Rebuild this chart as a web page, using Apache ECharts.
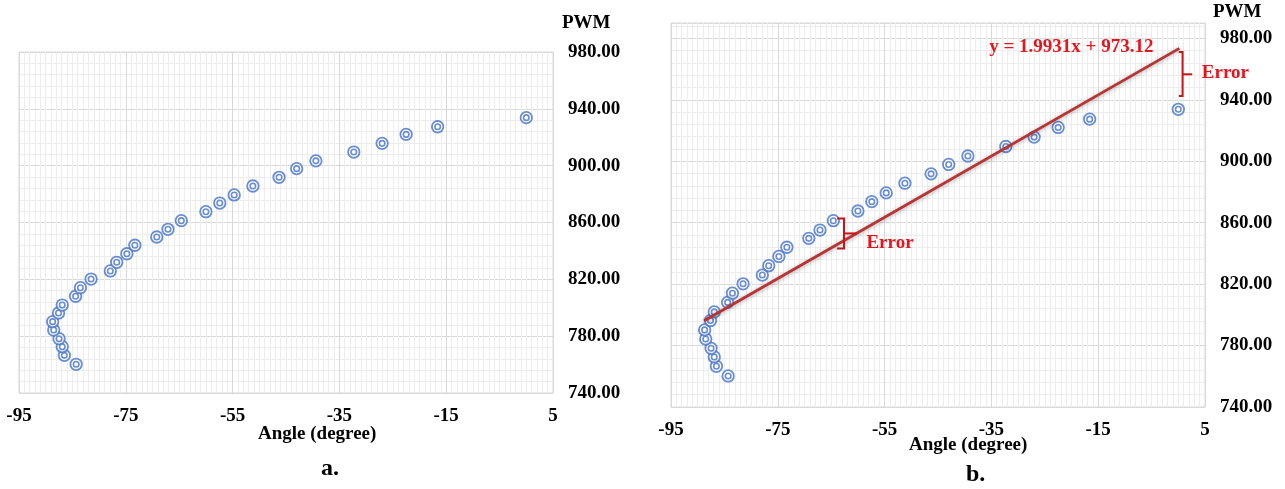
<!DOCTYPE html>
<html><head><meta charset="utf-8">
<script src="https://cdn.jsdelivr.net/npm/echarts@6/dist/echarts.min.js"></script>
<style>html,body{margin:0;padding:0;background:#fff}#c{width:1285px;height:489px}</style>
</head><body><div id="c"></div><script>
// Measured data (angle in degrees, PWM)
const angle = [-84.3,-86.5,-86.9,-87.5,-88.5,-88.7,-87.6,-86.9,-84.4,-83.5,-81.5,-77.9,-76.7,-74.8,-73.3,-69.2,-67.1,-64.6,-60.0,-57.4,-54.7,-51.2,-46.3,-43.0,-39.4,-32.3,-27.0,-22.5,-16.6,0.0];
const pwm   = [760.2,766.5,772.6,778.2,784.3,790.2,796.3,801.9,808.1,814.1,820.2,825.9,832.0,838.0,844.0,849.8,855.2,861.3,867.6,873.7,879.4,885.7,891.8,897.9,903.4,909.6,915.7,922.0,927.4,933.8];
// Trend line end points
const trendX = [-88.8, 0.2];
const trendY = [796.1, 973.5];
const equationText = 'y = 1.9931x + 973.12';
const equationPos = [-35.4, 974.3];
// Error brackets in panel b
const bracketX      = [-62.6, 0.8];
const bracketHook   = [-63.9, 0.1];
const bracketTip    = [-60.2, 2.6];
const bracketTop    = [862.7, 971.1];
const bracketBottom = [843.2, 942.5];
const bracketMid    = [853.0, 956.6];
const errTextX      = [-58.4, 4.4];
const errTextY      = [846.9, 957.2];
// Axis settings
const xMin = -95, xMax = 5, xStep = 20;
const yMin = 740, yMaxA = 980, yMaxB = 990, yStep = 40;

const FONT = '"Liberation Serif","Times New Roman",serif';
const pts = angle.map((a,i)=>[a,pwm[i]]);
const trend = trendX.map((x,i)=>[x,trendY[i]]);
const blue = '#4470c8';

function xAxis(gi){
  return {type:'value', gridIndex:gi, min:xMin, max:xMax, interval:xStep,
    axisLine:{show:false}, axisTick:{show:false},
    axisLabel:{color:'#000', fontFamily:FONT, fontWeight:'bold', fontSize:19, margin:14},
    splitLine:{show:true, lineStyle:{color:'#d9d9d9', width:1}},
    minorTick:{show:false, splitNumber:20},
    minorSplitLine:{show:true, lineStyle:{color:'#ededed', width:1}}};
}
function yAxis(gi, max){
  return {type:'value', gridIndex:gi, position:'right', min:yMin, max:max, interval:yStep,
    axisLine:{show:false}, axisTick:{show:false},
    axisLabel:{color:'#000', fontFamily:FONT, fontWeight:'bold', fontSize:19, margin:15,
      showMaxLabel: max===yMaxA, formatter:v=>v.toFixed(2)},
    splitLine:{show:true, lineStyle:{color:'#d9d9d9', width:1}},
    minorTick:{show:false, splitNumber:5},
    minorSplitLine:{show:true, lineStyle:{color:'#ededed', width:1}}};
}
function markers(gi){
  return [
    {type:'scatter', xAxisIndex:gi, yAxisIndex:gi, data:pts, symbol:'circle', symbolSize:11.5, z:3,
      itemStyle:{color:'#fff', borderColor:blue, borderWidth:1.8}, silent:true},
    {type:'scatter', xAxisIndex:gi, yAxisIndex:gi, data:pts, symbol:'circle', symbolSize:5.5, z:4,
      itemStyle:{color:'#fff', borderColor:blue, borderWidth:1.6}, silent:true}
  ];
}

const chart = echarts.init(document.getElementById('c'), null, {renderer:'canvas'});
chart.setOption({
  animation:false,
  backgroundColor:'#fff',
  grid:[
    {left:19, right:732, top:52, bottom:96, show:true, borderColor:'#d9d9d9', borderWidth:1, backgroundColor:'transparent'},
    {left:671, right:80, top:23, bottom:82, show:true, borderColor:'#d9d9d9', borderWidth:1, backgroundColor:'transparent'}
  ],
  xAxis:[xAxis(0), xAxis(1)],
  yAxis:[yAxis(0,yMaxA), yAxis(1,yMaxB)],
  series:[
    ...markers(0),
    ...markers(1),
    {type:'line', xAxisIndex:1, yAxisIndex:1, data:trend, symbol:'none', z:6, silent:true,
      lineStyle:{color:'#b83434', width:2.8, shadowColor:'rgba(0,0,0,0.35)', shadowBlur:4, shadowOffsetY:1}},
    {type:'custom', xAxisIndex:1, yAxisIndex:1, silent:true, clip:false, z:10,
      data: bracketX.map((v,i)=>[i]),
      renderItem:function(params, api){
        const i = api.value(0);
        const p = (x,y)=>api.coord([x,y]);
        const a=p(bracketHook[i],bracketTop[i]), b=p(bracketX[i],bracketTop[i]),
              c=p(bracketX[i],bracketBottom[i]), d=p(bracketHook[i],bracketBottom[i]);
        const m1=p(bracketX[i],bracketMid[i]), m2=p(bracketTip[i],bracketMid[i]);
        const t=p(errTextX[i],errTextY[i]);
        return {type:'group', children:[
          {type:'polyline', shape:{points:[a,b,c,d]}, style:{stroke:'#c81414', lineWidth:2, fill:null}},
          {type:'line', shape:{x1:m1[0],y1:m1[1],x2:m2[0],y2:m2[1]}, style:{stroke:'#c81414', lineWidth:2}},
          {type:'text', x:t[0], y:t[1], style:{text:'Error', fill:'#e8141c', font:'bold 19px '+FONT, verticalAlign:'middle', align:'left'}}
        ]};
      }},
    {type:'custom', xAxisIndex:1, yAxisIndex:1, silent:true, clip:false, z:10,
      data:[equationPos],
      renderItem:function(params, api){
        const t = api.coord([api.value(0), api.value(1)]);
        return {type:'text', x:t[0], y:t[1], style:{text:equationText, fill:'#e8141c', font:'bold 19px '+FONT, verticalAlign:'middle', align:'left'}};
      }}
  ],
  graphic:[
    {type:'text', left:258, top:425, style:{text:'Angle (degree)', fill:'#000', font:'bold 19px '+FONT}},
    {type:'text', left:909, top:436, style:{text:'Angle (degree)', fill:'#000', font:'bold 19px '+FONT}},
    {type:'text', left:562, top:14, style:{text:'PWM', fill:'#000', font:'bold 19px '+FONT}},
    {type:'text', left:1213, top:3, style:{text:'PWM', fill:'#000', font:'bold 19px '+FONT}},
    {type:'text', left:321, top:457, style:{text:'a.', fill:'#000', font:'bold 24px '+FONT}},
    {type:'text', left:966, top:463, style:{text:'b.', fill:'#000', font:'bold 24px '+FONT}}
  ]
});
</script></body></html>
